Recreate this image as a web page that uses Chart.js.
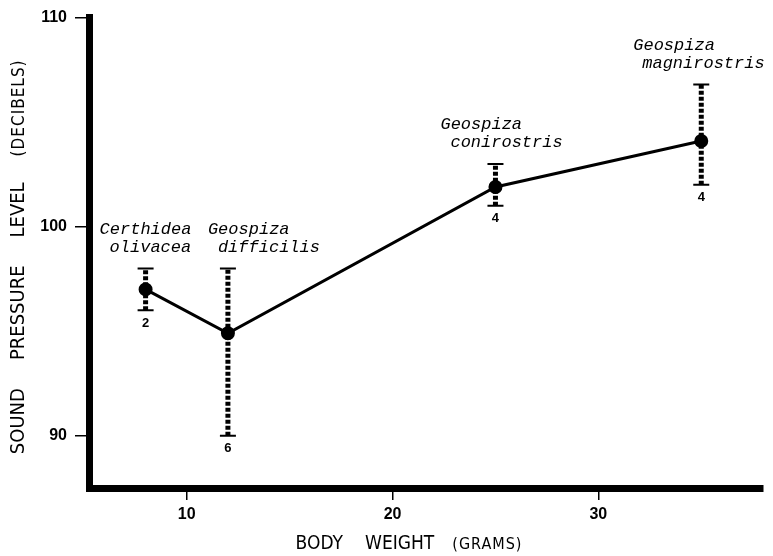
<!DOCTYPE html>
<html>
<head>
<meta charset="utf-8">
<script src="https://cdn.jsdelivr.net/npm/chart.js@4"></script>
<style>
  html, body { margin: 0; padding: 0; background: #fff; }
  #wrap { width: 773px; height: 556px; }
</style>
</head>
<body>
<div id="wrap"><canvas id="c" width="773" height="556"></canvas></div>
<script>
// Song loudness against body weight for four Galapagos finches
const species = [
  ["Certhidea", "olivacea"],
  ["Geospiza", "difficilis"],
  ["Geospiza", "conirostris"],
  ["Geospiza", "magnirostris"]
];
const bodyWeight = [8, 12, 25, 35];          // grams
const meanSPL    = [97, 94.9, 101.9, 104.1];  // decibels
const lowSPL     = [96, 90, 101, 102];
const highSPL    = [98, 98, 103, 106.8];
const sampleSize = [2, 6, 4, 4];
const xTicks = [10, 20, 30];
const yTicks = [90, 100, 110];

// label placement (pixels, relative to each species' range bar)
const nameOffsets = [[-46, -36], [-20, -10], [-55, -45], [-68, -59]];

const INK = "#000";
const narrow = '"Liberation Sans Narrow", "DejaVu Sans Condensed", "Liberation Sans", sans-serif';

// dotted range bars, one dataset per species
const rangeSets = bodyWeight.map((w, i) => ({
  data: [{ x: w, y: lowSPL[i] }, { x: w, y: highSPL[i] }],
  borderColor: INK,
  borderWidth: 5,
  borderDash: [4, 2],
  borderCapStyle: "butt",
  pointStyle: "line",
  pointRadius: 8,
  pointBorderWidth: 2,
  pointBorderColor: INK,
  pointBackgroundColor: INK,
  tension: 0
}));

const meanSet = {
  data: bodyWeight.map((w, i) => ({ x: w, y: meanSPL[i] })),
  borderColor: INK,
  borderWidth: 3,
  pointRadius: 5.5,
  pointBackgroundColor: INK,
  pointBorderColor: INK,
  tension: 0
};

function drawPieces(ctx, pieces, gaps) {
  const widths = pieces.map(p => {
    ctx.font = p[1];
    ctx.letterSpacing = p[2] || "0px";
    return ctx.measureText(p[0]).width;
  });
  const total = widths.reduce((a, b) => a + b, 0) + gaps.reduce((a, b) => a + b, 0);
  let x = -total / 2;
  pieces.forEach((p, i) => {
    ctx.font = p[1];
    ctx.letterSpacing = p[2] || "0px";
    ctx.fillText(p[0], x, 0);
    x += widths[i] + (gaps[i] || 0);
  });
  ctx.letterSpacing = "0px";
}

const annotations = {
  id: "annotations",
  afterDatasetsDraw(chart) {
    const { ctx, chartArea: a, scales } = chart;
    const xs = scales.x, ys = scales.y;
    ctx.save();
    ctx.fillStyle = INK;

    // species names above each range bar
    ctx.font = 'italic 17px "Liberation Mono", "Courier New", monospace';
    ctx.textAlign = "left";
    ctx.textBaseline = "middle";
    species.forEach((lines, i) => {
      const px = xs.getPixelForValue(bodyWeight[i]);
      const top = ys.getPixelForValue(highSPL[i]);
      ctx.fillText(lines[0], px + nameOffsets[i][0], top - 39);
      ctx.fillText(lines[1], px + nameOffsets[i][1], top - 21);
    });

    // sample sizes under each range bar
    ctx.font = 'bold 13px "Liberation Sans", Arial, sans-serif';
    ctx.textAlign = "center";
    sampleSize.forEach((n, i) => {
      const px = xs.getPixelForValue(bodyWeight[i]);
      const bot = ys.getPixelForValue(lowSPL[i]);
      ctx.fillText(String(n), px, bot + 13);
    });

    // axis titles
    ctx.textAlign = "left";
    ctx.textBaseline = "alphabetic";
    ctx.save();
    ctx.translate(a.left + a.width / 2 - 17, chart.height - 7);
    drawPieces(ctx, [
      ["BODY", "19px " + narrow],
      ["WEIGHT", "19px " + narrow],
      ["(GRAMS)", "16px " + narrow, "1px"]
    ], [22, 18]);
    ctx.restore();

    ctx.save();
    ctx.translate(24, a.top + a.height / 2 + 4);
    ctx.rotate(-Math.PI / 2);
    drawPieces(ctx, [
      ["SOUND", "20px " + narrow],
      ["PRESSURE", "20px " + narrow],
      ["LEVEL", "20px " + narrow],
      ["(DECIBELS)", "17px " + narrow, "1px"]
    ], [28, 28, 26]);
    ctx.restore();

    ctx.restore();
  }
};

const tickFont = { family: '"Liberation Sans", Arial, sans-serif', weight: "bold", size: 16 };

new Chart(document.getElementById("c"), {
  type: "line",
  data: { datasets: [...rangeSets, meanSet] },
  options: {
    responsive: false,
    animation: false,
    devicePixelRatio: 1,
    layout: { padding: { top: 13, right: 5, left: 0, bottom: 0 } },
    plugins: { legend: { display: false }, tooltip: { enabled: false } },
    scales: {
      x: {
        type: "linear",
        min: 5.25,
        max: 38,
        afterBuildTicks: s => { s.ticks = xTicks.map(v => ({ value: v })); },
        afterFit: s => { s.height = 68; },
        grid: { drawOnChartArea: false, drawTicks: true, tickLength: 12, color: INK, lineWidth: 1.5 },
        border: { display: true, color: INK, width: 7 },
        ticks: { color: INK, font: tickFont, padding: 5, maxRotation: 0, autoSkip: false }
      },
      y: {
        type: "linear",
        min: 87.5,
        max: 110,
        afterBuildTicks: s => { s.ticks = yTicks.map(v => ({ value: v })); },
        afterFit: s => { s.width = 89; },
        grid: { drawOnChartArea: false, drawTicks: true, tickLength: 14, color: INK, lineWidth: 1.5 },
        border: { display: true, color: INK, width: 7 },
        ticks: { color: INK, font: tickFont, padding: 8, autoSkip: false }
      }
    }
  },
  plugins: [annotations]
});
</script>
</body>
</html>
